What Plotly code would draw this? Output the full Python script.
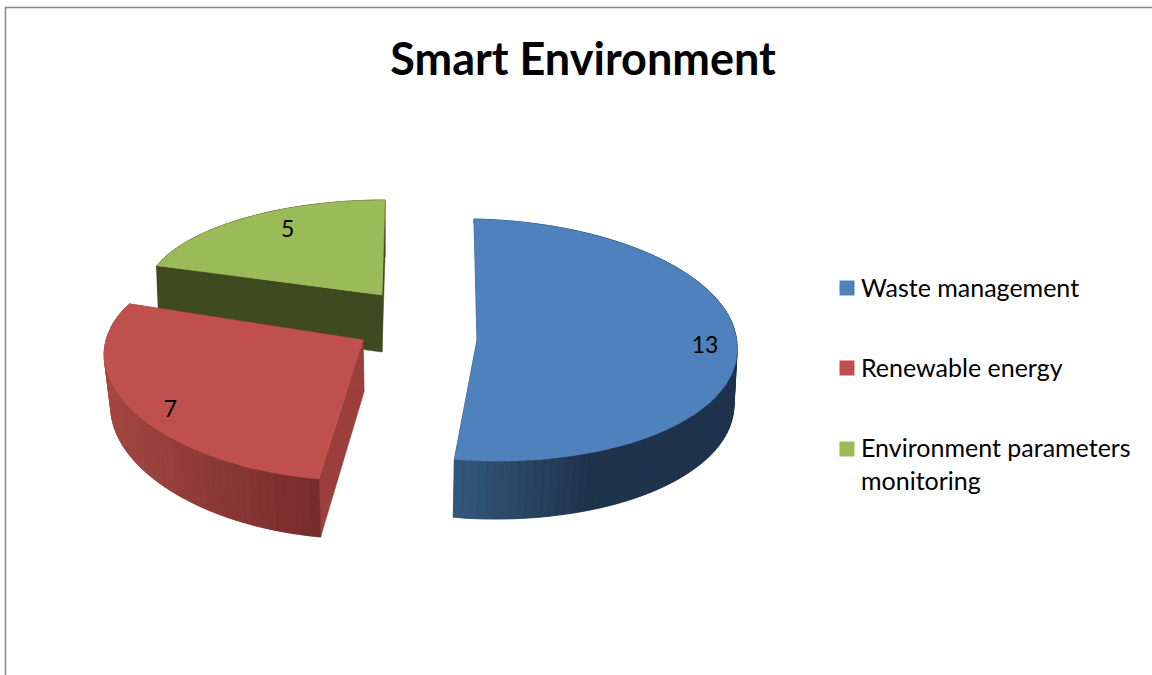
"""Smart Environment: exploded 3D-look pie drawn from the slice values."""

import math

import plotly.graph_objects as go

# -- Data --
CATEGORIES = ["Waste management", "Renewable energy", "Environment parameters<br>monitoring"]
VALUES = [13, 7, 5]

# -- Styling --
FONT = "Lato, Carlito, Calibri, sans-serif"
TOP_COLORS = ["#4F81BD", "#C0504D", "#9BBB59"]
RADIAL_COLORS = ["#1F334D", "#9A3F3C", "#404A20"]
# wall gradient per slice: x start, x end, rgb start, rgb end
WALLS = [
    (453, 590, (52, 89, 124), (31, 51, 77)),
    (108, 320, (163, 70, 66), (116, 44, 43)),
    (160, 382, (64, 74, 32), (64, 74, 32)),
]
# projection per slice: apex on the page, radius, perspective and wall height
PROJ = [
    dict(ax=477, ay=340, a=260, b=121, k=0.0, kx=0.0, shear=-3, shear_front=-10, tilt=5, bx=481, by=398, f=0.973,
         h=58, hk=0.0, lean_front=5.7, lab_x=0.877, lab_y=0.58),
    dict(ax=363, ay=340, a=256, b=114, k=0.19, kx=0.12, shear=4, shear_front=8, tilt=3, bx=364, by=392, f=0.978,
         h=52, hk=0.105, lean_front=0, lab_x=0.818, lab_y=1.09),
    dict(ax=382, ay=295, a=238, b=95, k=0.0, kx=0.0, shear=3, shear_front=3, tilt=0, bx=382, by=352, f=0.99,
         h=57, hk=0.0, lean_front=0, lab_x=0.686, lab_y=0.83),
]
# legend rows: square centre y and text centre y on the page
LEGEND_ROWS = [(288, 287), (368, 367), (449, 463)]
LEGEND_SQUARE_X = 847
LEGEND_TEXT_X = 859
STEPS_PER_VALUE = 8


def top_point(p, deg):
    sin_t, cos_t = math.sin(math.radians(deg)), math.cos(math.radians(deg))
    shear = p["shear"] if cos_t > 0 else p["shear_front"]
    return (
        p["ax"] + p["a"] * sin_t / (1 + p["kx"] * cos_t) + shear * cos_t,
        p["ay"] - p["b"] * cos_t / (1 + p["k"] * cos_t) + p["tilt"] * sin_t,
    )


def bottom_point(p, deg):
    x, y = top_point(p, deg)
    cos_t = math.cos(math.radians(deg))
    drop = p["h"] / (1 + p["hk"] * cos_t)
    lean = p["lean_front"] * min(cos_t, 0)
    return p["bx"] + p["f"] * (x - p["ax"]) + lean, y + drop + (p["by"] - p["h"] - p["ay"])


def wall_color(wall, x):
    x0, x1, c0, c1 = wall
    t = min(max((x - x0) / (x1 - x0), 0), 1)
    r, g, b = (round(u + (v - u) * t) for u, v in zip(c0, c1))
    return f"rgb({r},{g},{b})"


def polygon(points, color):
    xs = [pt[0] for pt in points] + [points[0][0]]
    ys = [pt[1] for pt in points] + [points[0][1]]
    return go.Scatter(
        x=xs, y=ys, mode="lines", fill="toself", fillcolor=color,
        line={"color": color, "width": 0.5}, hoverinfo="skip", showlegend=False,
    )


total = sum(VALUES)
fig = go.Figure()
label_pos = {}

# back slices first so that the nearer ones cover them
start_angles = [sum(VALUES[:i]) / total * 360 for i in range(len(VALUES))]
for i in [2, 0, 1]:
    p = PROJ[i]
    start = start_angles[i]
    sweep = VALUES[i] / total * 360
    n = VALUES[i] * STEPS_PER_VALUE
    angles = [start + sweep * j / n for j in range(n + 1)]

    # radial faces
    fig.add_trace(polygon(
        [(p["ax"], p["ay"]), top_point(p, start), bottom_point(p, start), (p["bx"], p["by"])],
        RADIAL_COLORS[i],
    ))
    fig.add_trace(polygon(
        [(p["ax"], p["ay"]), top_point(p, start + sweep), bottom_point(p, start + sweep), (p["bx"], p["by"])],
        RADIAL_COLORS[i],
    ))

    # outer wall: strips run left to right and overlap the next one so no seams show
    ordered = angles if top_point(p, angles[0])[0] < top_point(p, angles[-1])[0] else angles[::-1]
    for j in range(len(ordered) - 1):
        run = ordered[j:j + 3]
        x_mid = (top_point(p, ordered[j])[0] + top_point(p, ordered[j + 1])[0]) / 2
        fig.add_trace(polygon(
            [top_point(p, a) for a in run] + [bottom_point(p, a) for a in reversed(run)],
            wall_color(WALLS[i], x_mid),
        ))

    # top face
    fig.add_trace(polygon([(p["ax"], p["ay"])] + [top_point(p, a) for a in angles], TOP_COLORS[i]))

    mid_x, mid_y = top_point(p, start + sweep / 2)
    label_pos[i] = (p["ax"] + (mid_x - p["ax"]) * p["lab_x"], p["ay"] + (mid_y - p["ay"]) * p["lab_y"])

# data labels
fig.add_trace(go.Scatter(
    x=[label_pos[i][0] for i in range(len(VALUES))],
    y=[label_pos[i][1] for i in range(len(VALUES))],
    mode="text", text=[str(v) for v in VALUES], textposition="middle center",
    textfont={"family": FONT, "size": 23, "color": "#000000"},
    hoverinfo="skip", showlegend=False,
))

# legend squares, placed by hand because the built-in legend keeps a wider gap to its text
fig.add_trace(go.Scatter(
    x=[LEGEND_SQUARE_X] * len(CATEGORIES),
    y=[row[0] for row in LEGEND_ROWS],
    mode="markers",
    marker={"symbol": "square", "size": 15, "color": TOP_COLORS},
    text=[name.replace("<br>", " ") for name in CATEGORIES],
    hoverinfo="text",
    showlegend=False,
))

fig.update_layout(
    width=1152,
    height=675,
    margin={"l": 0, "r": 0, "t": 0, "b": 0},
    paper_bgcolor="white",
    plot_bgcolor="white",
    showlegend=False,
    font={"family": FONT, "color": "#000000"},
    title={
        "text": "<b>Smart Environment</b>",
        "font": {"family": FONT, "size": 45, "color": "#000000"},
        "x": 583 / 1152,
        "xanchor": "center",
        "y": 1 - 59 / 675,
        "yanchor": "middle",
    },
    xaxis={"range": [0, 1152], "visible": False, "fixedrange": True},
    yaxis={"range": [675, 0], "visible": False, "fixedrange": True},
    annotations=[
        {
            "x": LEGEND_TEXT_X, "y": row[1], "xref": "x", "yref": "y",
            "text": name, "showarrow": False, "xanchor": "left", "yanchor": "middle", "align": "left",
            "font": {"family": FONT, "size": 25, "color": "#000000"},
        }
        for name, row in zip(CATEGORIES, LEGEND_ROWS)
    ],
    shapes=[
        {"type": "line", "x0": 5.5, "x1": 5.5, "y0": 7, "y1": 675, "line": {"color": "#868686", "width": 1.5}},
        {"type": "line", "x0": 5, "x1": 1152, "y0": 7.5, "y1": 7.5, "line": {"color": "#868686", "width": 1.5}},
    ],
)

fig.write_html(
    "out.html",
    config={"displayModeBar": False},
    post_script="document.body.style.margin = '0';",
)
